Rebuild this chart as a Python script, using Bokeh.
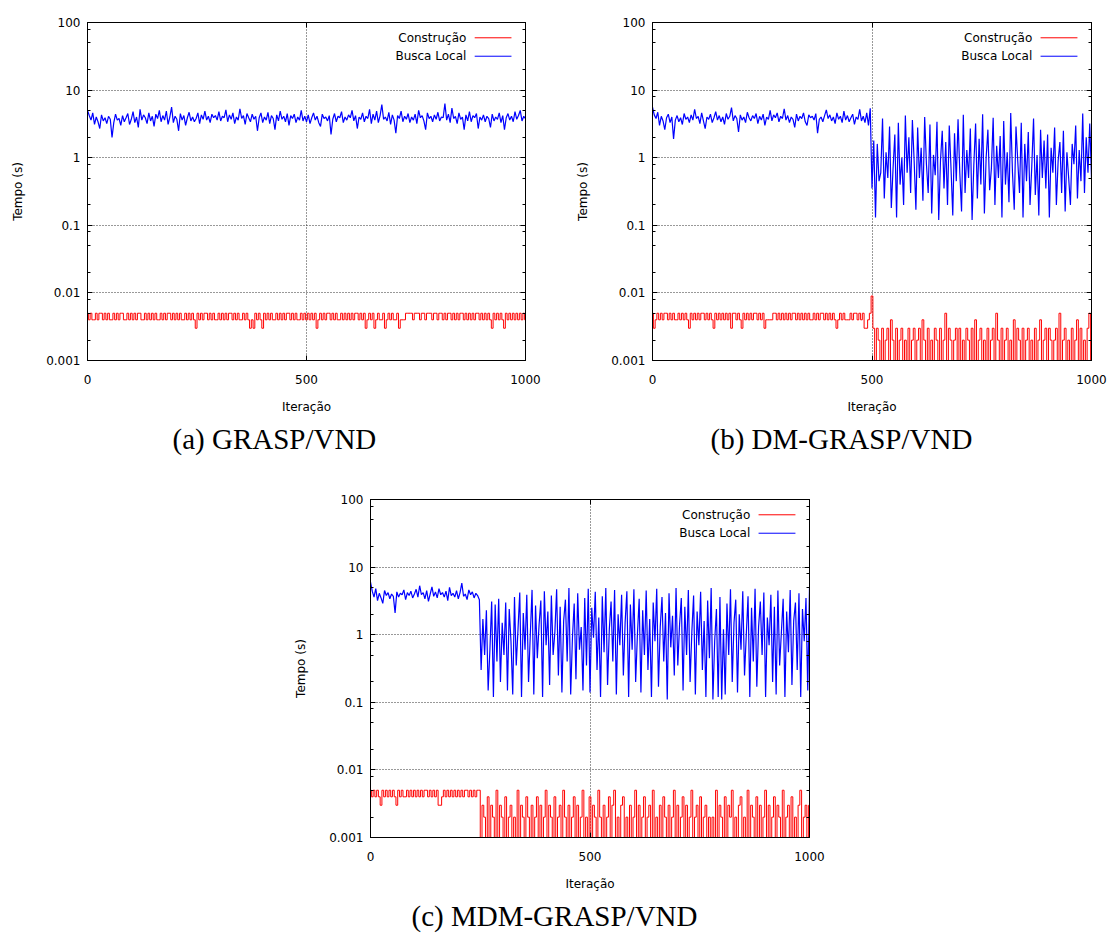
from bokeh.plotting import figure
from bokeh.models import (Range1d, FixedTicker, LogAxis, LinearAxis,
                          NumeralTickFormatter, CustomJSTickFormatter,
                          Label, Arrow, Title)
from bokeh.layouts import column, row
from bokeh.embed import file_html
from bokeh.resources import INLINE

iteracoes = list(range(0, 1001, 4))

busca_a = [
    5.0, 4.2, 3.6, 4.6, 3.1, 4.0, 3.4, 2.7, 4.3, 3.5, 3.9, 3.2, 4.1, 3.7, 2.0, 3.3, 4.4, 3.6, 3.8, 3.0, 4.2, 3.4, 3.9, 4.5, 3.1,
    3.7, 4.8, 3.3, 4.0, 2.8, 5.2, 3.6, 4.3, 3.9, 3.2, 4.6, 3.5, 4.1, 2.9, 4.4, 3.8, 5.0, 3.4, 4.2, 3.6, 4.9, 3.1, 4.0, 5.6, 3.3,
    4.1, 3.7, 2.5, 4.5, 3.6, 4.2, 3.0, 3.9, 4.7, 3.5, 4.0, 3.4, 3.8, 4.6, 3.2, 4.3, 3.7, 4.9, 3.6, 4.1, 3.3, 4.4, 3.9, 4.2, 3.6,
    4.8, 3.5, 4.1, 3.9, 5.1, 3.4, 4.3, 3.7, 4.6, 3.2, 4.0, 3.6, 5.3, 3.8, 4.2, 3.1, 4.5, 3.9, 3.4, 4.4, 3.7, 4.1, 2.5, 3.9, 4.6,
    3.3, 4.0, 3.6, 4.7, 3.2, 4.2, 3.8, 2.6, 4.3, 3.5, 4.9, 3.7, 4.1, 3.4, 4.5, 3.0, 4.2, 3.8, 4.4, 3.3, 4.0, 3.6, 5.0, 3.5, 4.1,
    3.4, 4.3, 3.2, 3.9, 4.6, 3.6, 4.1, 3.3, 2.9, 4.4, 3.8, 4.0, 3.5, 4.2, 2.2, 3.7, 4.5, 3.4, 4.1, 3.9, 4.8, 3.3, 4.0, 3.6, 4.3,
    3.9, 5.0, 3.5, 4.2, 2.7, 4.0, 3.7, 4.6, 3.4, 4.1, 3.8, 5.2, 3.2, 4.4, 3.6, 4.9, 3.3, 4.2, 6.1, 3.7, 4.0, 3.5, 4.7, 3.1, 4.3,
    3.6, 2.3, 4.2, 3.8, 4.9, 3.4, 4.1, 3.7, 4.5, 3.3, 4.0, 3.6, 4.4, 3.2, 5.0, 3.9, 4.2, 3.5, 2.6, 4.6, 3.8, 4.1, 3.4, 4.3, 3.7,
    4.7, 3.5, 4.0, 3.9, 6.3, 3.6, 4.4, 3.3, 5.4, 3.8, 4.1, 3.2, 4.6, 3.7, 4.0, 2.6, 4.3, 3.5, 4.8, 3.4, 4.2, 3.9, 4.5, 2.7, 4.0,
    3.6, 4.3, 3.4, 4.1, 3.8, 2.8, 4.4, 3.5, 4.0, 3.7, 4.6, 3.3, 4.2, 2.6, 3.9, 4.5, 3.6, 4.1, 3.4, 4.8, 3.7, 4.2, 5.0, 3.5, 4.1,
    3.8,
]

construcao_a_ms = [
    5, 4, 5, 4, 4, 5, 4, 5, 5, 4, 5, 4, 5, 4, 4, 5, 4, 5, 4, 5, 5, 4, 4, 5, 4,
    5, 4, 5, 4, 5, 5, 4, 4, 5, 4, 5, 4, 5, 4, 5, 4, 4, 5, 4, 5, 4, 5, 5, 4, 5,
    4, 5, 4, 5, 4, 4, 5, 4, 5, 4, 5, 4, 3, 5, 4, 5, 4, 5, 5, 4, 5, 4, 5, 4, 4,
    5, 4, 5, 4, 5, 4, 5, 5, 4, 5, 4, 5, 4, 4, 5, 4, 5, 4, 3, 4, 3, 5, 4, 5, 4,
    3, 5, 4, 5, 4, 5, 4, 4, 5, 4, 5, 4, 5, 4, 5, 5, 4, 5, 4, 5, 4, 4, 5, 4, 5,
    4, 5, 4, 5, 4, 5, 3, 4, 5, 4, 5, 4, 5, 5, 4, 5, 4, 5, 4, 4, 5, 4, 5, 4, 5,
    4, 5, 4, 5, 5, 4, 5, 4, 5, 3, 4, 5, 4, 5, 3, 4, 5, 4, 4, 5, 3, 4, 5, 4, 5,
    4, 4, 5, 3, 4, 4, 4, 5, 5, 5, 5, 4, 5, 5, 5, 4, 5, 5, 4, 5, 5, 5, 4, 5, 5,
    4, 5, 5, 4, 5, 4, 5, 5, 4, 5, 4, 5, 4, 5, 5, 4, 5, 4, 5, 4, 5, 4, 5, 5, 4,
    5, 4, 5, 4, 5, 4, 3, 5, 4, 5, 4, 5, 4, 3, 5, 4, 5, 4, 5, 4, 5, 4, 5, 4, 5,
    4,
]

busca_b = [
    5.6, 4.3, 3.8, 4.7, 3.0, 4.1, 3.5, 2.6, 3.9, 4.4, 3.3, 4.0, 1.9, 3.6, 4.2, 3.4, 3.9, 3.1, 4.5, 3.7, 4.0, 3.3, 4.3, 3.6, 5.2,
    3.8, 4.1, 3.2, 4.6, 3.5, 2.7, 4.0, 3.7, 4.4, 3.3, 3.9, 4.8, 3.6, 4.2, 3.4, 4.0, 3.1, 4.5, 3.7, 4.1, 5.5, 3.5, 4.2, 3.8, 2.4,
    4.3, 3.6, 4.0, 3.3, 4.7, 3.9, 3.5, 4.2, 3.8, 4.5, 3.2, 4.1, 3.6, 4.4, 3.0, 4.0, 3.7, 5.0, 3.5, 4.3, 3.9, 4.6, 3.4, 4.1, 3.8,
    5.3, 3.6, 4.2, 3.3, 4.0, 3.7, 2.8, 4.4, 3.5, 4.1, 3.8, 4.6, 3.4, 3.0, 4.3, 3.9, 4.1, 3.6, 4.5, 2.3, 3.7, 4.0, 3.4, 4.2, 5.1,
    3.8, 4.3, 3.5, 4.0, 3.2, 4.6, 3.7, 4.1, 3.3, 4.9, 3.6, 4.2, 3.4, 3.9, 4.4, 3.1, 4.0, 3.7, 5.2, 3.5, 4.1, 3.3, 4.6, 3.0, 5.4,
    0.35, 1.8, 0.13, 1.6, 0.45, 0.6, 3.8, 0.25, 1.2, 0.5, 2.9, 0.18, 0.7, 2.2, 0.13, 3.3, 0.4, 1.0, 0.2, 4.2, 0.6, 2.0, 0.3, 3.6, 0.9,
    0.17, 2.8, 0.5, 1.4, 0.23, 4.0, 0.8, 0.3, 3.1, 0.15, 1.1, 0.55, 3.4, 0.12, 0.9, 2.5, 0.35, 1.7, 0.2, 3.0, 0.7, 0.14, 2.3, 0.45, 3.7,
    0.6, 0.16, 4.3, 0.3, 1.3, 0.5, 2.7, 0.12, 0.8, 3.2, 0.25, 1.9, 0.4, 4.4, 0.15, 1.0, 2.6, 0.33, 0.7, 3.9, 0.2, 1.5, 0.5, 2.1, 0.13,
    3.5, 0.4, 1.2, 0.22, 4.6, 0.6, 0.17, 2.9, 0.9, 0.3, 3.3, 0.13, 1.6, 0.45, 2.4, 0.2, 0.75, 3.8, 0.28, 1.1, 0.14, 2.6, 0.5, 1.8, 0.35,
    2.2, 0.13, 1.4, 0.6, 2.8, 0.2, 0.9, 1.7, 0.3, 2.5, 0.16, 1.2, 0.5, 0.2, 1.6, 0.8, 3.0, 0.25, 1.3, 0.45, 4.5, 0.3, 2.0, 0.6, 3.2,
    0.5,
]

construcao_b_ms = [
    5, 3, 4, 5, 4, 5, 4, 5, 5, 4, 5, 4, 5, 4, 4, 5, 4, 5, 4, 5, 4, 3, 5, 4, 5,
    4, 5, 4, 5, 5, 4, 5, 4, 5, 4, 3, 5, 4, 5, 4, 5, 4, 5, 4, 5, 3, 5, 5, 4, 5,
    4, 3, 5, 4, 5, 4, 5, 4, 5, 5, 4, 5, 4, 5, 3, 4, 4, 4, 4, 5, 5, 4, 5, 4, 5,
    4, 5, 4, 5, 4, 5, 5, 4, 5, 4, 5, 4, 5, 4, 5, 4, 4, 5, 4, 5, 4, 5, 5, 4, 5,
    4, 5, 4, 5, 4, 3, 4, 5, 4, 5, 4, 4, 4, 5, 4, 5, 5, 4, 5, 4, 5, 3, 3, 4, 5,
    9, 3, 1, 3, 2, 1, 3, 1, 2, 3, 1, 4, 2, 1, 3, 1, 2, 3, 1, 2, 1, 3, 1, 2, 3,
    1, 2, 3, 1, 4, 2, 1, 3, 1, 2, 1, 3, 2, 1, 3, 1, 2, 5, 1, 3, 2, 1, 2, 3, 1,
    3, 1, 2, 1, 3, 2, 1, 3, 1, 4, 1, 2, 3, 1, 2, 1, 3, 1, 2, 3, 1, 5, 2, 1, 3,
    1, 2, 3, 1, 2, 1, 4, 1, 3, 2, 1, 3, 1, 2, 3, 1, 2, 1, 3, 1, 2, 4, 1, 2, 3,
    1, 3, 2, 1, 2, 3, 1, 5, 1, 2, 3, 1, 2, 1, 3, 1, 2, 4, 1, 3, 1, 2, 1, 3, 5,
    1,
]

busca_c = [
    6.0, 4.4, 3.6, 4.8, 3.2, 4.1, 3.5, 2.9, 4.5, 3.8, 4.2, 3.4, 4.0, 3.7, 2.1, 4.3, 3.6, 4.1, 3.9, 4.6, 3.3, 4.2, 3.8, 4.4, 3.5,
    4.0, 4.7, 3.6, 5.3, 3.9, 4.2, 3.4, 4.5, 3.1, 4.0, 5.1, 3.7, 4.3, 3.5, 4.8, 3.9, 4.2, 3.6, 4.4, 3.2, 5.0, 3.8, 4.1, 3.6, 4.5,
    3.4, 4.2, 5.8, 3.7, 4.0, 3.3, 4.6, 3.9, 4.3, 3.5, 4.1, 3.8, 3.3,
    0.3, 1.7, 0.5, 2.3, 0.15, 0.6, 3.1, 0.12, 2.8, 0.4, 3.4, 0.2,
    1.5, 0.5, 3.0, 0.15, 2.4, 0.8, 0.13, 3.6, 0.35, 1.2, 4.2, 0.12, 2.1, 0.6, 3.9, 0.2, 1.0, 4.6, 0.13, 2.7, 0.45, 1.4, 3.2, 0.12, 4.4,
    0.7, 2.2, 0.18, 3.8, 0.5, 1.1, 4.7, 0.25, 2.6, 0.14, 1.6, 3.3, 0.4, 4.9, 0.13, 0.9, 2.9, 0.22, 4.1, 0.6, 1.3, 0.15, 3.5, 0.35, 4.8,
    0.14, 2.5, 0.9, 4.3, 0.3, 1.8, 0.12, 3.7, 0.55, 4.9, 0.18, 1.2, 3.1, 0.4, 4.6, 0.13, 2.0, 0.7, 3.9, 0.25, 1.5, 4.4, 0.12, 2.8, 0.6,
    4.7, 0.2, 1.0, 3.4, 0.14, 2.3, 0.5, 4.5, 0.3, 1.7, 0.12, 3.0, 0.8, 4.8, 0.17, 1.3, 3.6, 0.4, 2.1, 0.11, 4.1, 0.65, 1.9, 0.25, 4.9,
    0.35, 1.4, 3.5, 0.15, 2.6, 0.5, 4.6, 0.2, 1.1, 3.8, 0.13, 2.2, 0.7, 4.3, 0.3, 1.6, 0.12, 3.2, 0.45, 4.9, 0.11, 0.8, 2.4, 0.12, 3.6,
    0.11, 1.2, 0.13, 2.9, 0.5, 4.7, 0.2, 1.5, 3.3, 0.14, 2.0, 0.6, 4.4, 0.25, 1.0, 3.7, 0.12, 2.5, 0.4, 4.8, 0.17, 1.3, 3.1, 0.5, 4.2,
    0.12, 1.8, 0.7, 3.9, 0.2, 2.6, 0.13, 4.5, 0.35, 1.1, 3.4, 0.12, 2.2, 0.55, 4.6, 0.18, 1.6, 3.0, 0.3, 4.1, 0.12, 2.4, 0.8, 3.5, 0.15,
    5.0,
]

construcao_c_ms = [
    5, 4, 5, 4, 5, 4, 3, 5, 4, 5, 4, 5, 4, 5, 4, 3, 5, 4, 5, 4, 4, 5, 4, 5, 4,
    5, 4, 5, 4, 5, 4, 5, 5, 4, 5, 4, 5, 4, 5, 3, 3, 4, 5, 4, 5, 4, 5, 4, 5, 4,
    5, 4, 5, 4, 5, 5, 4, 5, 4, 5, 4, 5, 5,
    1, 3, 2, 1, 4, 1, 3, 2, 1, 5, 1, 3,
    2, 1, 4, 1, 2, 3, 1, 2, 1, 5, 1, 3, 2, 1, 4, 2, 1, 3, 1, 2, 4, 1, 3, 1, 2,
    5, 1, 3, 2, 1, 4, 1, 2, 3, 1, 5, 2, 1, 3, 1, 2, 4, 1, 3, 1, 2, 5, 1, 2, 1,
    4, 1, 3, 2, 1, 5, 2, 1, 3, 1, 2, 4, 1, 3, 5, 1, 2, 1, 3, 4, 1, 2, 1, 3, 1,
    2, 5, 1, 3, 1, 2, 4, 1, 2, 3, 1, 5, 1, 2, 1, 3, 1, 4, 2, 1, 3, 1, 2, 5, 1,
    3, 1, 2, 4, 1, 3, 1, 2, 5, 1, 2, 3, 1, 4, 1, 2, 3, 1, 2, 1, 2, 1, 5, 1, 3,
    2, 1, 4, 1, 3, 2, 5, 1, 2, 1, 3, 4, 1, 2, 1, 5, 1, 3, 2, 1, 4, 1, 3, 1, 2,
    5, 1, 3, 1, 2, 4, 1, 3, 2, 1, 5, 1, 2, 3, 1, 4, 1, 2, 1, 3, 5, 1, 2, 3, 1,
    3,
]

x_ticks = [0, 500, 1000]
y_ticks = [0.001, 0.01, 0.1, 1, 10, 100]
y_minor = [m * 10.0 ** e for e in range(-3, 2) for m in (2, 5, 8)]
legend_labels = ["Construção", "Busca Local"]

FONT = "DejaVu Sans"
CAP_FONT = "Liberation Serif"


def style_axis(ax):
    ax.major_tick_in = 5
    ax.major_tick_out = 0
    ax.minor_tick_in = 3
    ax.minor_tick_out = 0
    ax.axis_line_color = "black"
    ax.major_tick_line_color = "black"
    ax.minor_tick_line_color = "black"
    ax.major_label_text_font = FONT
    ax.major_label_text_font_size = "12px"
    ax.major_label_text_color = "black"
    ax.axis_label_text_font = FONT
    ax.axis_label_text_font_size = "12px"
    ax.axis_label_text_font_style = "normal"
    ax.axis_label_text_color = "black"


def panel(busca, constr_ms, caption, fw, left, right, top, bottom, cap_offset):
    p = figure(frame_width=fw, frame_height=338,
               x_range=Range1d(0, 1000), y_range=Range1d(0.001, 100),
               y_axis_type="log", output_backend="svg", toolbar_location=None,
               min_border_left=left, min_border_right=right,
               min_border_top=top, min_border_bottom=bottom,
               background_fill_color="white", border_fill_color="white",
               outline_line_color="black", outline_line_width=1)
    constr = [v / 1000.0 for v in constr_ms]
    p.step(iteracoes, constr, mode="center", line_color="#ff0000", line_width=1)
    p.line(iteracoes, busca, line_color="#0000ff", line_width=1.2)

    # main axes
    xa = p.xaxis[0]
    xa.ticker = FixedTicker(ticks=x_ticks)
    xa.axis_label = "Iteração"
    style_axis(xa)
    xa.major_label_standoff = 14
    xa.axis_label_standoff = 13

    ya = p.yaxis[0]
    ya.ticker = FixedTicker(ticks=y_ticks, minor_ticks=y_minor)
    ya.formatter = NumeralTickFormatter(format="0.[000]")
    ya.axis_label = "Tempo (s)"
    style_axis(ya)
    ya.major_label_standoff = 7
    ya.axis_label_standoff = 18

    # mirrored tick marks (no labels)
    blank = CustomJSTickFormatter(code="return ''")
    ra = LogAxis(ticker=FixedTicker(ticks=y_ticks, minor_ticks=y_minor),
                 formatter=blank)
    style_axis(ra)
    p.add_layout(ra, "right")
    ta = LinearAxis(ticker=FixedTicker(ticks=x_ticks), formatter=blank)
    style_axis(ta)
    p.add_layout(ta, "above")

    # grid
    p.xgrid.ticker = FixedTicker(ticks=[500])
    p.ygrid.ticker = FixedTicker(ticks=[0.01, 0.1, 1, 10])
    for g in (p.xgrid[0], p.ygrid[0]):
        g.grid_line_color = "#333333"
        g.grid_line_dash = "1 2"
        g.grid_line_width = 1

    # legend (gnuplot style: text then line sample)
    for lab, yy, col in ((legend_labels[0], 59.4, "#ff0000"),
                         (legend_labels[1], 31.7, "#0000ff")):
        p.add_layout(Label(x=865, y=yy, text=lab, text_align="right",
                           text_baseline="middle", text_font=FONT,
                           text_font_size="12px", text_color="black"))
        p.add_layout(Arrow(end=None, x_start=884, y_start=yy,
                           x_end=968, y_end=yy, line_color=col, line_width=1))

    # caption
    p.add_layout(Title(text=caption, align="left", offset=cap_offset,
                       vertical_align="top",
                       text_font=CAP_FONT, text_font_size="29px",
                       text_font_style="normal", text_color="black",
                       standoff=13), "below")
    return p


pa = panel(busca_a, construcao_a_ms, "(a) GRASP/VND", 438, 87, 35, 22, 110, 85)
pb = panel(busca_b, construcao_b_ms, "(b) DM-GRASP/VND", 439, 92, 20, 22, 110, 58)
pc = panel(busca_c, construcao_c_ms, "(c) MDM-GRASP/VND", 439, 370, 302, 29, 102, 41)

layout = column(row(pa, pb), pc)

open("out.html", "w").write(file_html(layout, INLINE))
